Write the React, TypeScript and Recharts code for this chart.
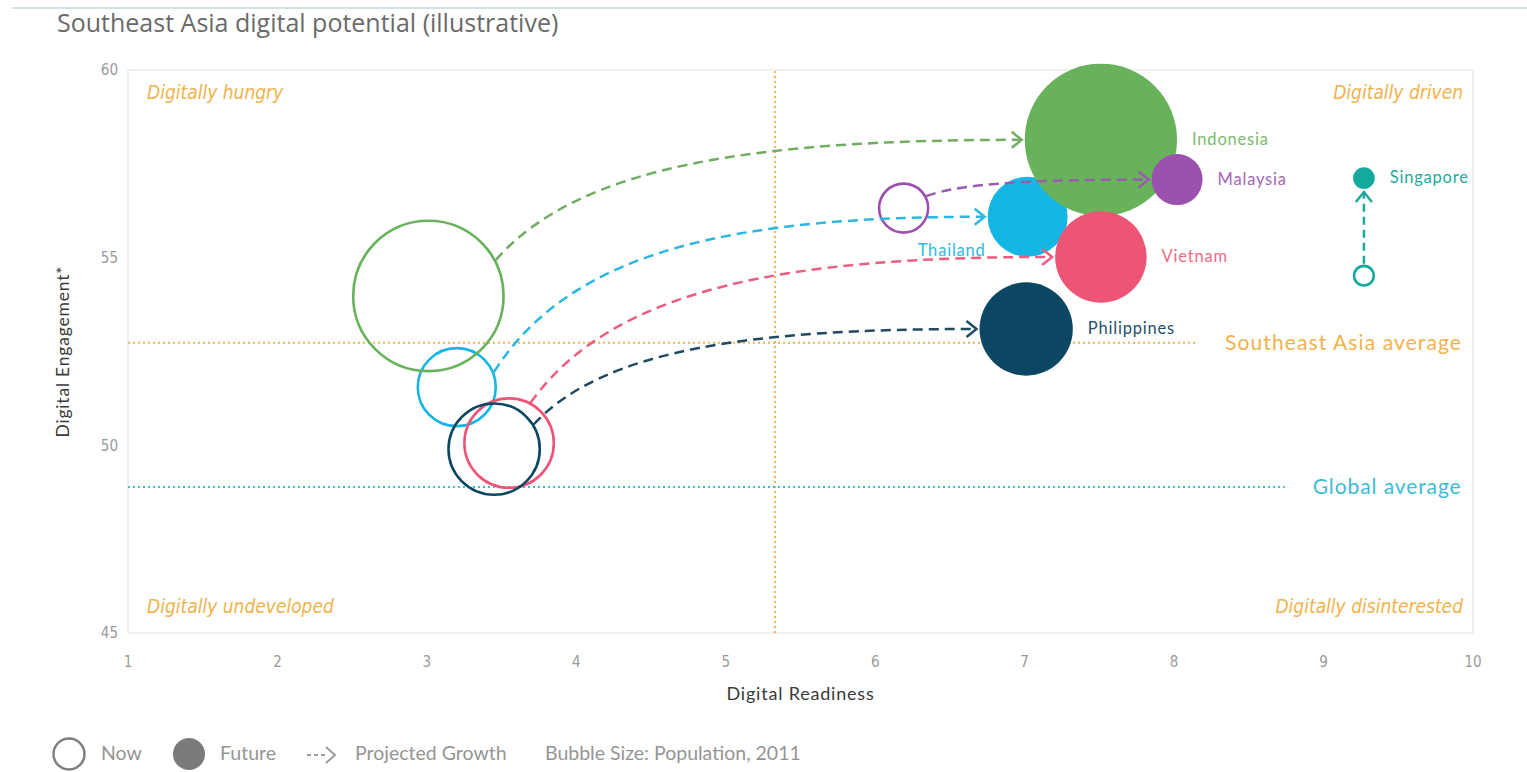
import React from 'react';
import {
  ScatterChart,
  Scatter,
  XAxis,
  YAxis,
  ZAxis,
  ReferenceLine,
  ReferenceArea,
} from 'recharts';

// ---------- data ----------
const countries = ['Thailand', 'Indonesia', 'Vietnam', 'Philippines', 'Malaysia', 'Singapore'];
const nowReadiness = [3.2, 3.01, 3.55, 3.45, 6.19, 9.27];
const nowEngagement = [51.55, 53.98, 50.06, 49.9, 56.32, 54.52];
const futureReadiness = [7.02, 7.51, 7.51, 7.01, 8.02, 9.27];
const futureEngagement = [56.09, 58.14, 55.02, 53.1, 57.08, 57.12];
const bubbleSize = [75, 272, 98, 102, 30.5, 5.5];

const xTicks = [1, 2, 3, 4, 5, 6, 7, 8, 9, 10];
const yTicks = [45, 50, 55, 60];

const readinessDivider = 5.33;
const seaAverage = 52.73;
const seaAverageEnd = 8.14;
const globalAverage = 48.89;
const globalAverageEnd = 8.74;

// ---------- styles ----------
const COLORS: Record<string, string> = {
  Thailand: '#14b6e3',
  Indonesia: '#67b25b',
  Vietnam: '#ec5576',
  Philippines: '#0b4762',
  Malaysia: '#9b51ad',
  Singapore: '#14a99c',
};
const LABEL_COLORS: Record<string, string> = {
  Thailand: '#2cbbe4',
  Indonesia: '#7cba6c',
  Vietnam: '#ee6b87',
  Philippines: '#24506a',
  Malaysia: '#a467b6',
  Singapore: '#22aa9d',
};
const ARROW_COLORS: Record<string, string> = {
  Thailand: '#2ab8e0',
  Indonesia: '#70ad62',
  Vietnam: '#ec5e7e',
  Philippines: '#1f4a60',
  Malaysia: '#9a5cae',
  Singapore: '#1fa89c',
};
const START_ANGLE: Record<string, number> = {
  Thailand: 22,
  Indonesia: 28,
  Vietnam: 62,
  Philippines: 32,
  Malaysia: 28,
  Singapore: 90,
};

const ORANGE = '#f0b24c';
const CYAN = '#3dbcd6';
const NARROW = "'Liberation Sans Narrow', 'DejaVu Sans Condensed', 'Roboto', sans-serif";
const HUMAN = "'Lato', 'Open Sans', sans-serif";

// z-axis (bubble size) scale: area linear in size
const Z_MAX = 300;
const R_AT_MAX = 80;
const AREA_MAX = Math.PI * R_AT_MAX * R_AT_MAX;
const radiusOf = (z: number) => R_AT_MAX * Math.sqrt(z / Z_MAX);

const nowData = countries.map((c, i) => ({
  name: c,
  x: nowReadiness[i],
  y: nowEngagement[i],
  z: bubbleSize[i],
}));
const futureData = countries.map((c, i) => ({
  name: c,
  x: futureReadiness[i],
  y: futureEngagement[i],
  z: bubbleSize[i],
}));

const rOf = (p: any) =>
  p.width ? p.width / 2 : Math.sqrt(Math.max(p.size || 0, 0) / Math.PI);

const NowShape = (p: any) => {
  const name = p.payload?.name ?? p.name;
  return (
    <circle
      cx={p.cx}
      cy={p.cy}
      r={Math.max(rOf(p) - 1, 1)}
      fill="none"
      stroke={COLORS[name]}
      strokeWidth={2.6}
    />
  );
};

const FutureShape = (p: any) => {
  const name = p.payload?.name ?? p.name;
  const r = rOf(p);
  const isThai = name === 'Thailand';
  return (
    <g>
      <circle cx={p.cx} cy={p.cy} r={r} fill={COLORS[name]} />
      <text
        x={isThai ? p.cx - 42 : p.cx + r + 15}
        y={isThai ? p.cy + 35 : p.cy + 1}
        textAnchor={isThai ? 'end' : 'start'}
        dominantBaseline="middle"
        fontFamily={HUMAN}
        fontSize={16.5}
        letterSpacing={0.8}
        fill={LABEL_COLORS[name]}
      >
        {name}
      </text>
    </g>
  );
};

const makeArrow = (i: number) => (props: any) => {
  const { x1, y1, x2, y2 } = props;
  const name = countries[i];
  const color = ARROW_COLORS[name];
  const r = radiusOf(bubbleSize[i]);
  const a = (START_ANGLE[name] * Math.PI) / 180;
  const common = {
    fill: 'none',
    stroke: color,
    strokeWidth: 2.5,
  };
  if (Math.abs(x2 - x1) < 4) {
    // vertical growth
    const sy = y1 - r - 1;
    const ty = y2 + r + 3;
    return (
      <g>
        <path d={`M${x1},${sy} L${x2},${ty + 1}`} {...common} strokeDasharray="8 5" />
        <path d={`M${x2 - 8},${ty + 10} L${x2},${ty} L${x2 + 8},${ty + 10}`} {...common} />
      </g>
    );
  }
  const sx = x1 + r * Math.cos(a);
  const sy = y1 - r * Math.sin(a);
  const tx = x2 - r - 3;
  const ty = y2;
  const dx = tx - sx;
  const dy = ty - sy;
  const c1x = sx + 0.16 * dx;
  const c1y = sy + 0.8 * dy;
  const c2x = sx + 0.5 * dx;
  const c2y = ty;
  return (
    <g>
      <path
        d={`M${sx},${sy} C${c1x},${c1y} ${c2x},${c2y} ${tx - 1},${ty}`}
        {...common}
        strokeDasharray="10 6"
      />
      <path d={`M${tx - 10},${ty - 8} L${tx},${ty} L${tx - 10},${ty + 8}`} {...common} />
    </g>
  );
};

export default function App() {
  return (
    <div
      style={{
        position: 'absolute',
        left: 0,
        top: 0,
        width: 1527,
        height: 772,
        background: '#ffffff',
        overflow: 'hidden',
      }}
    >
      <div
        style={{
          position: 'absolute',
          left: 12,
          top: 7,
          width: 1515,
          height: 2,
          background: '#d3e2e5',
        }}
      />
      <div
        style={{
          position: 'absolute',
          left: 57,
          top: 5,
          fontFamily: "'Open Sans', 'Lato', sans-serif",
          fontSize: 25,
          color: '#6a6a6a',
          whiteSpace: 'nowrap',
        }}
      >
        Southeast Asia digital potential (illustrative)
      </div>

      <ScatterChart
        width={1527}
        height={772}
        margin={{ top: 70, right: 54, bottom: 99, left: 68 }}
      >
        <XAxis
          type="number"
          dataKey="x"
          domain={[1, 10]}
          ticks={xTicks}
          interval={0}
          axisLine={false}
          tickLine={false}
          tickSize={0}
          tickMargin={23}
          height={40}
          tick={{ fill: '#9a9a9a', fontSize: 15, fontFamily: NARROW }}
          label={{
            value: 'Digital Readiness',
            position: 'bottom',
            offset: 14,
            fill: '#3a3a3a',
            fontSize: 18,
            fontFamily: HUMAN,
            letterSpacing: 0.8,
          }}
        />
        <YAxis
          type="number"
          dataKey="y"
          domain={[45, 60]}
          ticks={yTicks}
          interval={0}
          axisLine={false}
          tickLine={false}
          tickSize={0}
          tickMargin={10}
          width={60}
          tick={{ fill: '#9a9a9a', fontSize: 15, fontFamily: NARROW }}
          label={{
            value: 'Digital Engagement*',
            angle: -90,
            position: 'insideLeft',
            offset: -5,
            fill: '#3a3a3a',
            fontSize: 17.5,
            fontFamily: HUMAN,
            letterSpacing: 0.8,
            style: { textAnchor: 'middle' },
          }}
        />
        <ZAxis type="number" dataKey="z" domain={[0, Z_MAX]} range={[0, AREA_MAX]} />

        <ReferenceArea
          x1={1}
          x2={10}
          y1={45}
          y2={60}
          fill="none"
          stroke="#ebebeb"
          strokeWidth={1.5}
          zIndex={50}
        />
        <ReferenceLine
          x={readinessDivider}
          stroke={ORANGE}
          strokeWidth={2}
          strokeDasharray="2 3"
          zIndex={60}
        />
        <ReferenceLine
          segment={[
            { x: 1, y: seaAverage },
            { x: seaAverageEnd, y: seaAverage },
          ]}
          stroke={ORANGE}
          strokeWidth={2}
          strokeDasharray="2 3"
          zIndex={60}
          label={{
            value: 'Southeast Asia average',
            position: 'right',
            offset: 30,
            fill: ORANGE,
            fontSize: 21,
            fontFamily: HUMAN,
            letterSpacing: 1.1,
          }}
        />
        <ReferenceLine
          segment={[
            { x: 1, y: globalAverage },
            { x: globalAverageEnd, y: globalAverage },
          ]}
          stroke={CYAN}
          strokeWidth={2}
          strokeDasharray="2 3"
          zIndex={60}
          label={{
            value: 'Global average',
            position: 'right',
            offset: 28,
            fill: CYAN,
            fontSize: 21,
            fontFamily: HUMAN,
            letterSpacing: 0.9,
          }}
        />

        <Scatter
          name="Future"
          data={futureData}
          shape={FutureShape}
          isAnimationActive={false}
        />
        <Scatter name="Now" data={nowData} shape={NowShape} isAnimationActive={false} />

        {countries.map((c, i) => (
          <ReferenceLine
            key={c}
            segment={[
              { x: nowReadiness[i], y: nowEngagement[i] },
              { x: futureReadiness[i], y: futureEngagement[i] },
            ]}
            ifOverflow="visible"
            zIndex={700}
            shape={makeArrow(i)}
          />
        ))}
      </ScatterChart>

      <svg
        width={1527}
        height={772}
        style={{ position: 'absolute', left: 0, top: 0, pointerEvents: 'none' }}
      >
        <g fontFamily={NARROW} fontStyle="italic" fontSize={19} fill={ORANGE}>
          <text x={147} y={93} dominantBaseline="middle">Digitally hungry</text>
          <text x={1463} y={93} dominantBaseline="middle" textAnchor="end">Digitally driven</text>
          <text x={147} y={607} dominantBaseline="middle">Digitally undeveloped</text>
          <text x={1463} y={607} dominantBaseline="middle" textAnchor="end">Digitally disinterested</text>
        </g>
        <g fontFamily={HUMAN} fontSize={19.5} fill="#959595">
          <circle cx={69} cy={754} r={15.5} fill="none" stroke="#7e7e7e" strokeWidth={2.4} />
          <text x={101} y={755} dominantBaseline="middle">Now</text>
          <circle cx={189} cy={754} r={16} fill="#7a7a7a" />
          <text x={220} y={755} dominantBaseline="middle">Future</text>
          <path d="M307,755 L328,755" stroke="#9a9a9a" strokeWidth={2} strokeDasharray="4 3" fill="none" />
          <path d="M326,747 L335,755 L326,763" stroke="#9a9a9a" strokeWidth={2} fill="none" />
          <text x={355} y={755} dominantBaseline="middle">Projected Growth</text>
          <text x={545} y={755} dominantBaseline="middle">Bubble Size: Population, 2011</text>
        </g>
      </svg>
    </div>
  );
}
